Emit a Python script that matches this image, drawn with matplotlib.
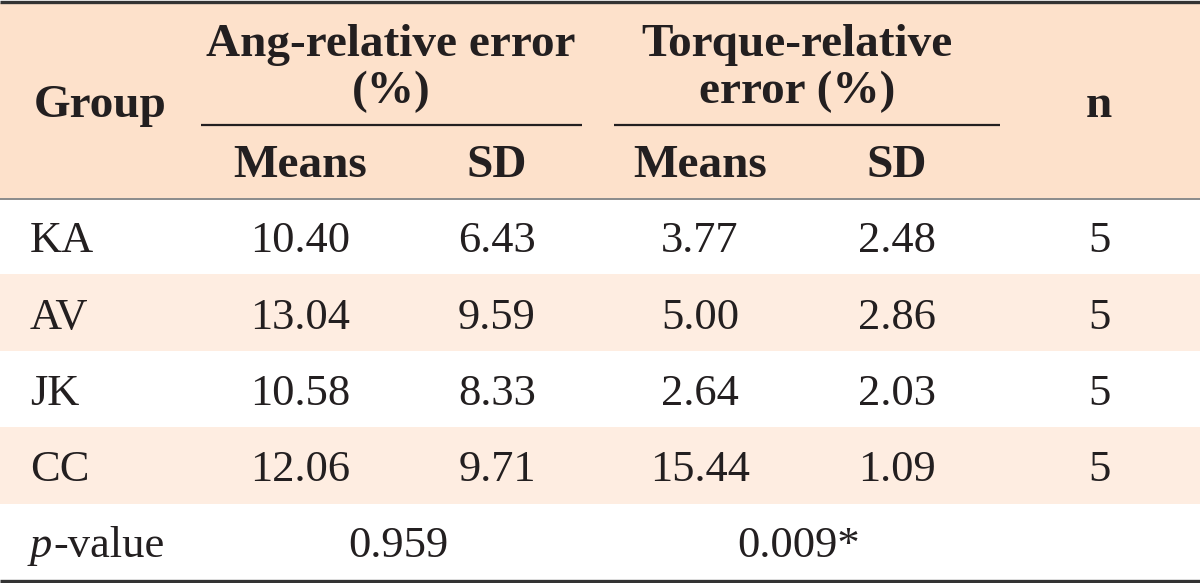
import matplotlib
matplotlib.use("Agg")
import matplotlib.pyplot as plt
from matplotlib.patches import Rectangle

groups = ["KA", "AV", "JK", "CC"]
ang_means = [10.40, 13.04, 10.58, 12.06]
ang_sd = [6.43, 9.59, 8.33, 9.71]
tor_means = [3.77, 5.00, 2.64, 15.44]
tor_sd = [2.48, 2.86, 2.03, 1.09]
n_vals = [5, 5, 5, 5]
p_values = ["0.959", "0.009*"]
group_headers = [["Ang-relative error", "(%)"], ["Torque-relative", "error (%)"]]
sub_headers = ["Means", "SD", "Means", "SD"]

W, H = 1200, 583
fig = plt.figure(figsize=(12, 5.83), dpi=100)
ax = fig.add_axes([0, 0, 1, 1])
ax.set_xlim(0, W)
ax.set_ylim(H, 0)
ax.axis("off")

FONT = "Liberation Serif"
FS = 32
FSB = 34
HEAD_BG = "#fde1cb"
STRIPE = "#feede1"
TXT = "#231f20"

col_x = [300, 497, 700, 897]
n_x = 1099
label_x = 30
row_top = 198
row_h = 76.4

# header background
ax.add_patch(Rectangle((0, 3), W, row_top - 3, color=HEAD_BG, lw=0))
# striped rows
for i in range(len(groups)):
    if i % 2 == 1:
        ax.add_patch(Rectangle((0, row_top + i * row_h), W, row_h, color=STRIPE, lw=0))

# lines
ax.plot([0, W], [1.5, 1.5], color="#333333", lw=2.4, solid_capstyle="butt")
ax.plot([0, W], [198.5, 198.5], color="#777777", lw=1.2, solid_capstyle="butt")
ax.plot([0, W], [580.5, 580.5], color="#333333", lw=2.4, solid_capstyle="butt")
ax.plot([201, 582], [125, 125], color=TXT, lw=1.6, solid_capstyle="butt")
ax.plot([614, 1000], [125, 125], color=TXT, lw=1.6, solid_capstyle="butt")

bold = dict(family=FONT, fontsize=FSB, fontweight="bold", color=TXT, ha="center", va="baseline")
reg = dict(family=FONT, fontsize=FS, color=TXT, va="baseline")

ax.text(100, 117, "Group", **bold)
for cx, lines in zip([391, 797], group_headers):
    ax.text(cx, 56, lines[0], **bold)
    ax.text(cx, 103, lines[1], **bold)
ax.text(n_x, 117, "n", **bold)
for x, s in zip(col_x, sub_headers):
    ax.text(x, 177, s, **bold)

for i, g in enumerate(groups):
    y = row_top + (i + 0.5) * row_h + 16
    ax.text(label_x, y, g, ha="left", **reg)
    vals = [ang_means[i], ang_sd[i], tor_means[i], tor_sd[i]]
    for x, v in zip(col_x, vals):
        ax.text(x, y, f"{v:.2f}", ha="center", **reg)
    ax.text(n_x, y, str(n_vals[i]), ha="center", **reg)

yp = row_top + 4.5 * row_h + 15
tp = ax.text(label_x, yp, "p", ha="left", family=FONT, fontsize=FS, style="italic",
             color=TXT, va="baseline")
fig.canvas.draw()
bb = tp.get_window_extent(renderer=fig.canvas.get_renderer())
x_end = ax.transData.inverted().transform((bb.x1, bb.y0))[0]
ax.text(x_end + 1, yp, "-value", ha="left", **reg)
ax.text((col_x[0] + col_x[1]) / 2, yp, p_values[0], ha="center", **reg)
ax.text((col_x[2] + col_x[3]) / 2, yp, p_values[1], ha="center", **reg)

fig.savefig("out.png", dpi=100, facecolor="white")
